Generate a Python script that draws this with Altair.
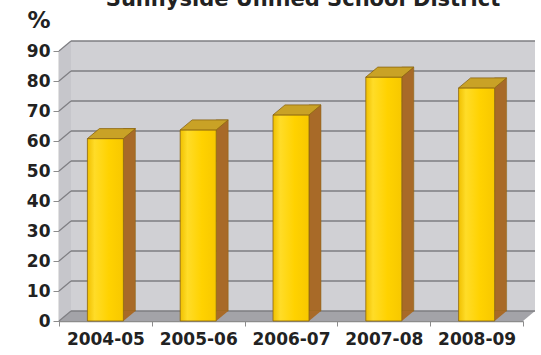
import altair as alt
import pandas as pd

# ---- data ----
years = ["2004-05", "2005-06", "2006-07", "2007-08", "2008-09"]
percent = [60.8, 63.7, 68.7, 81.3, 77.7]
y_ticks = [0, 10, 20, 30, 40, 50, 60, 70, 80, 90]
title_text = "Sunnyside Unified School District"
unit_text = "%"

# ---- geometry / style ----
W, H = 464, 270
DX, DY = 12, -10
BW = 36
FONT = "DejaVu Sans"
WALL = "#D0D0D4"
SIDEWALL = "#C6C6CB"
FLOOR = "#A3A3A8"
GRID = "#7E7E82"
FRONT = alt.LinearGradient(gradient="linear", x1=0, x2=1, y1=0, y2=0,
                           stops=[alt.GradientStop(color="#F0C000", offset=0),
                                  alt.GradientStop(color="#FFDC28", offset=0.2),
                                  alt.GradientStop(color="#FFD200", offset=0.6),
                                  alt.GradientStop(color="#F7C800", offset=1)])
SIDE = "#A86A28"
TOP = "#C9A226"
EDGE = "#8A6410"

df = pd.DataFrame({"year": years, "pct": percent, "zero": [0] * len(years)})
ticks_df = pd.DataFrame({"v": y_ticks})
one = pd.DataFrame({"a": [0]})

xscale = alt.Scale(paddingInner=0, paddingOuter=0)
yscale = alt.Scale(domain=[0, 90], nice=False)

x_axis = alt.Axis(title=None, labelAngle=0, labelFont=FONT, labelFontSize=17,
                  labelFontWeight="bold", labelColor="#222222", domainColor="#8C8C8C",
                  domainWidth=1.5, tickColor="#8C8C8C", tickSize=5, tickBand="extent",
                  labelPadding=5, labelOverlap=False)
y_axis = alt.Axis(title=None, values=y_ticks, grid=False, labelFont=FONT, labelFontSize=17,
                  labelFontWeight="bold", labelColor="#222222", domainColor="#8C8C8C",
                  domainWidth=1.5, tickColor="#8C8C8C", tickSize=6, labelPadding=3,
                  labelOverlap=False, labelBound=False, labelFlush=False)


def XE(field="year:N"):
    return alt.X(field, scale=xscale, sort=years, axis=x_axis)


def YE(field):
    return alt.Y(field, scale=yscale, axis=y_axis)


wall = alt.Chart(one).mark_rect(color=WALL).encode(
    x=alt.value(DX), x2=alt.value(W + DX), y=alt.value(DY), y2=alt.value(H + DY))

left_wall_path = f"M0 0 L{DX} {DY} L{DX} {H + DY} L0 {H} Z"
left_wall = alt.Chart(one).mark_point(shape=left_wall_path, size=4, filled=True,
                                      fill=SIDEWALL, strokeWidth=0, opacity=1).encode(
    x=alt.value(0), y=alt.value(0))

floor_path = f"M0 0 L{DX} {DY} L{W + DX} {DY} L{W} 0 Z"
floor = alt.Chart(one).mark_point(shape=floor_path, size=4, filled=True,
                                  fill=FLOOR, strokeWidth=0, opacity=1).encode(
    x=alt.value(0), y=alt.value(H))

grid = alt.Chart(ticks_df).mark_rule(color=GRID, strokeWidth=1.6, yOffset=DY).encode(
    y=YE("v:Q"), x=alt.value(DX), x2=alt.value(W + DX))

diag = alt.Chart(ticks_df).mark_rule(color=GRID, strokeWidth=1.2, y2Offset=DY).encode(
    y=YE("v:Q"), y2="v:Q", x=alt.value(0), x2=alt.value(DX))

side = alt.Chart(df).mark_bar(width=DX, xOffset=BW / 2 + DX / 2, yOffset=DY, y2Offset=DY,
                              color=SIDE, stroke=EDGE, strokeWidth=0.5).encode(
    x=XE(), y=YE("pct:Q"), y2="zero:Q")

bot_path = f"M{BW/2} 0 L{BW/2} {DY} L{BW/2 + DX} {DY} Z"
side_bottom = alt.Chart(df).mark_point(shape=bot_path, size=4, filled=True, fill=SIDE,
                                       strokeWidth=0, opacity=1).encode(
    x=XE(), y=YE("zero:Q"))

front = alt.Chart(df).mark_bar(width=BW, fill=FRONT, stroke=EDGE, strokeWidth=0.8).encode(
    x=XE(), y=YE("pct:Q"), y2="zero:Q")

top_path = f"M{-BW/2} 0 L{-BW/2 + DX} {DY} L{BW/2 + DX} {DY} L{BW/2} 0 Z"
top = alt.Chart(df).mark_point(shape=top_path, size=4, filled=True, fill=TOP,
                               stroke=EDGE, strokeWidth=0.8, opacity=1).encode(
    x=XE(), y=YE("pct:Q"))

unit = alt.Chart(one).mark_text(text=unit_text, font=FONT, fontSize=23, fontWeight="bold",
                                color="#222222", align="center", baseline="middle").encode(
    x=alt.value(-20), y=alt.value(-30))

title = alt.Chart(one).mark_text(text=title_text, font=FONT, fontSize=21, fontWeight="bold",
                                 color="#222222", align="center", baseline="alphabetic").encode(
    x=alt.value(244), y=alt.value(-45))

chart = alt.layer(wall, left_wall, floor, grid, diag, side, side_bottom, front, top, unit, title).properties(
    width=W, height=H,
    autosize=alt.AutoSizeParams(type="none"),
    padding={"left": 59, "top": 51, "right": 18, "bottom": 34},
    background="white",
).configure_view(stroke=None)

chart.save("out.html", embed_options={"renderer": "svg", "actions": False})
